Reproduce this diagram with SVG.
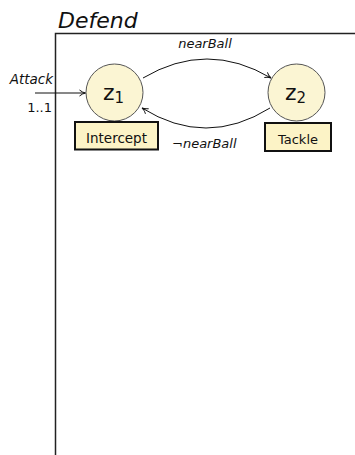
<svg xmlns="http://www.w3.org/2000/svg" width="355" height="455" viewBox="0 0 355 455">
  <style>
    text { font-family: "DejaVu Sans", "Liberation Sans", sans-serif; fill: #111; }
    .it { font-style: italic; }
    .state { fill: #fbf5d3; stroke: #555; stroke-width: 1; }
    .action { fill: #fcf3c6; stroke: #111; stroke-width: 2; }
    .edge { fill: none; stroke: #111; stroke-width: 1; }
    .frame { fill: none; stroke: #222; stroke-width: 1.5; }
  </style>
  <defs>
    <marker id="tip" viewBox="0 0 8 8" refX="7" refY="4" markerWidth="8" markerHeight="8" markerUnits="userSpaceOnUse" orient="auto">
      <path d="M1,1 Q4,3.5 7,4 Q4,4.5 1,7" fill="none" stroke="#111" stroke-width="1"/>
    </marker>
  </defs>

  <!-- region frame -->
  <g id="frame">
    <path class="frame" d="M55.5,455 V33.5 H355"/>
    <text class="it" x="58" y="28" font-size="22">Defend</text>
  </g>

  <!-- transitions -->
  <g id="connectors">
    <path class="edge" d="M35,93 H85.5" marker-end="url(#tip)"/>
    <path class="edge" d="M143,78 Q207,40 271,78" marker-end="url(#tip)"/>
    <path class="edge" d="M270,108 Q206,148 142,108" marker-end="url(#tip)"/>
    <text class="it" x="53" y="84" font-size="13.5" text-anchor="end">Attack</text>
    <text x="52" y="112" font-size="13" text-anchor="end">1..1</text>
    <text class="it" x="205" y="48" font-size="13" text-anchor="middle">nearBall</text>
    <text x="172" y="148" font-size="13"><tspan>¬</tspan><tspan class="it">nearBall</tspan></text>
  </g>

  <g id="z1">
    <circle class="state" cx="114.5" cy="92.5" r="28.5"/>
    <text x="103" y="100" font-size="22">z<tspan font-size="15" dy="3">1</tspan></text>
    <rect class="action" x="75" y="122" width="83" height="27.5"/>
    <text x="116.5" y="143" font-size="13.5" text-anchor="middle">Intercept</text>
  </g>

  <g id="z2">
    <circle class="state" cx="296.5" cy="92.5" r="28.5"/>
    <text x="285" y="100" font-size="22">z<tspan font-size="15" dy="3">2</tspan></text>
    <rect class="action" x="265" y="123" width="66" height="28"/>
    <text x="298" y="144" font-size="13" text-anchor="middle">Tackle</text>
  </g>
</svg>
